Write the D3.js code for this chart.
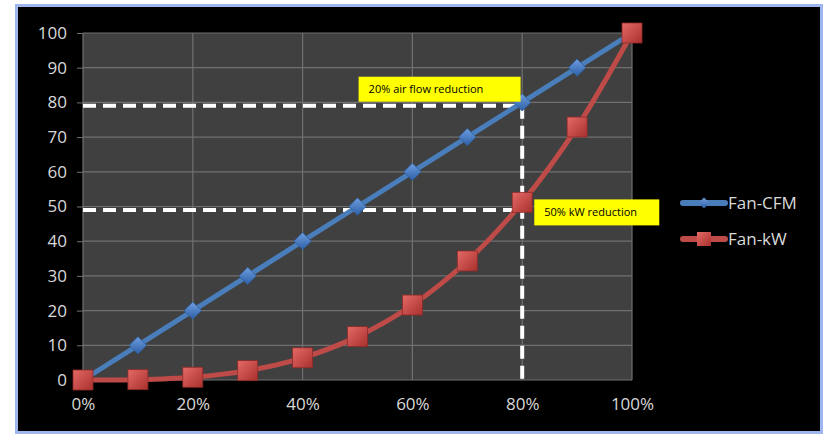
<!DOCTYPE html>
<html>
  <head>
    <meta charset="UTF-8" />
    <title>Fan CFM vs Fan kW</title>
    <script src="https://cdnjs.cloudflare.com/ajax/libs/d3/7.8.5/d3.min.js"></script>
    <style>
      body { margin: 0; padding: 0; background: #fff; overflow: hidden; }
      svg { display: block; }
      .tick text { fill: #d9d9d9; font-family: "Open Sans", sans-serif; font-size: 17px; }
    </style>
  </head>
  <body>
    <svg id="chart" width="825" height="434"></svg>
    <script>
      // data
      const xValues = [0, 0.1, 0.2, 0.3, 0.4, 0.5, 0.6, 0.7, 0.8, 0.9, 1.0];
      const fanCFM = [0, 10, 20, 30, 40, 50, 60, 70, 80, 90, 100];
      const fanKW = [0, 0.1, 0.8, 2.7, 6.4, 12.5, 21.6, 34.3, 51.2, 72.9, 100];
      const xTicks = [0, 0.2, 0.4, 0.6, 0.8, 1.0];
      const yTicks = [0, 10, 20, 30, 40, 50, 60, 70, 80, 90, 100];
      const guideX = 0.8;
      const guideY = [79, 49];
      const notes = [
        { text: "20% air flow reduction", x: 0.502, y: 83.8, w: 162, h: 25 },
        { text: "50% kW reduction", x: 0.822, y: 48.3, w: 125, h: 26 }
      ];

      const svg = d3.select("#chart");
      const plotL = 83, plotR = 632, plotT = 33, plotB = 380;

      // frame
      svg.append("rect").attr("x", 16.5).attr("y", 5.5).attr("width", 805).attr("height", 427)
        .attr("fill", "#000").attr("stroke", "#9fb6ee").attr("stroke-width", 3);

      const x = d3.scaleLinear().domain([0, 1]).range([plotL, plotR]);
      const y = d3.scaleLinear().domain([0, 100]).range([plotB, plotT]);

      svg.append("rect").attr("x", plotL).attr("y", plotT)
        .attr("width", plotR - plotL).attr("height", plotB - plotT).attr("fill", "#404040");

      // gridlines
      svg.append("g").selectAll("line").data(yTicks).join("line")
        .attr("x1", plotL).attr("x2", plotR).attr("y1", d => y(d)).attr("y2", d => y(d))
        .attr("stroke", "#707070").attr("stroke-width", 1.2);
      svg.append("g").selectAll("line").data(xTicks).join("line")
        .attr("y1", plotT).attr("y2", plotB).attr("x1", d => x(d)).attr("x2", d => x(d))
        .attr("stroke", "#707070").attr("stroke-width", 1.2);

      // axes
      const yAxis = svg.append("g").attr("transform", `translate(${plotL},0)`)
        .call(d3.axisLeft(y).tickValues(yTicks).tickSize(6).tickPadding(10));
      yAxis.select(".domain").remove();
      yAxis.selectAll(".tick line").attr("stroke", "#707070");

      const xAxis = svg.append("g").attr("transform", `translate(0,${plotB})`)
        .call(d3.axisBottom(x).tickValues(xTicks).tickFormat(d3.format(".0%")).tickSize(0).tickPadding(18));
      xAxis.select(".domain").remove();

      // dashed guides
      const guides = svg.append("g").attr("stroke", "#fff").attr("stroke-width", 4)
        .attr("stroke-dasharray", "13,7").attr("fill", "none");
      guideY.forEach(v => {
        guides.append("line").attr("x1", x(0)).attr("x2", x(guideX))
          .attr("y1", y(v)).attr("y2", y(v));
      });
      guides.append("line").attr("x1", x(guideX)).attr("x2", x(guideX))
        .attr("y1", y(guideY[0])).attr("y2", plotB + 4);

      // gradients for markers
      const defs = svg.append("defs");
      const gb = defs.append("linearGradient").attr("id", "gBlue").attr("x1", 0).attr("y1", 0).attr("x2", 0).attr("y2", 1);
      gb.append("stop").attr("offset", "0%").attr("stop-color", "#6f9ee0");
      gb.append("stop").attr("offset", "100%").attr("stop-color", "#2d5fa6");
      const gr = defs.append("linearGradient").attr("id", "gRed").attr("x1", 0).attr("y1", 0).attr("x2", 1).attr("y2", 1);
      gr.append("stop").attr("offset", "0%").attr("stop-color", "#e46a66");
      gr.append("stop").attr("offset", "100%").attr("stop-color", "#a8302d");

      const cfmData = xValues.map((v, i) => [v, fanCFM[i]]);
      const kwData = xValues.map((v, i) => [v, fanKW[i]]);

      const line = d3.line().x(d => x(d[0])).y(d => y(d[1]));
      const curve = d3.line().x(d => x(d[0])).y(d => y(d[1])).curve(d3.curveCatmullRom);

      svg.append("path").datum(cfmData).attr("d", line)
        .attr("fill", "none").attr("stroke", "#4a7ebb").attr("stroke-width", 5);
      svg.append("path").datum(kwData).attr("d", curve)
        .attr("fill", "none").attr("stroke", "#be4b48").attr("stroke-width", 5);

      const diamond = d3.symbol().type(d3.symbolDiamond2).size(190);
      svg.append("g").selectAll("path").data(cfmData).join("path")
        .attr("d", diamond)
        .attr("transform", d => `translate(${x(d[0])},${y(d[1])})`)
        .attr("fill", "url(#gBlue)").attr("stroke", "#2f5f9e").attr("stroke-width", 0.8);

      svg.append("g").selectAll("rect").data(kwData).join("rect")
        .attr("x", d => x(d[0]) - 10).attr("y", d => y(d[1]) - 10)
        .attr("width", 20).attr("height", 20)
        .attr("fill", "url(#gRed)").attr("stroke", "#8e2a28").attr("stroke-width", 0.8);

      // annotation boxes
      const noteG = svg.append("g").selectAll("g").data(notes).join("g")
        .attr("transform", d => `translate(${x(d.x)},${y(d.y) - d.h / 2})`);
      noteG.append("rect").attr("width", d => d.w).attr("height", d => d.h).attr("fill", "#ffff00");
      noteG.append("text").attr("x", 10).attr("y", d => d.h / 2 + 4)
        .attr("font-family", "Open Sans, sans-serif").attr("font-size", 11).attr("fill", "#000")
        .text(d => d.text);

      // legend
      const legend = [
        { name: "Fan-CFM", color: "#4a7ebb", kind: "diamond" },
        { name: "Fan-kW", color: "#be4b48", kind: "square" }
      ];
      const lg = svg.append("g").selectAll("g").data(legend).join("g")
        .attr("transform", (d, i) => `translate(683,${203 + i * 36})`);
      lg.append("line").attr("x1", 0).attr("x2", 42).attr("y1", 0).attr("y2", 0)
        .attr("stroke", d => d.color).attr("stroke-width", 6).attr("stroke-linecap", "round");
      lg.each(function (d) {
        const g = d3.select(this);
        if (d.kind === "diamond") {
          g.append("path").attr("d", d3.symbol().type(d3.symbolDiamond2).size(80))
            .attr("transform", "translate(21,0)").attr("fill", "url(#gBlue)");
        } else {
          g.append("rect").attr("x", 14).attr("y", -7).attr("width", 14).attr("height", 14)
            .attr("fill", "url(#gRed)");
        }
      });
      lg.append("text").attr("x", 45).attr("y", 6)
        .attr("font-family", "Open Sans, sans-serif").attr("font-size", 17).attr("fill", "#d9d9d9")
        .text(d => d.name);
    </script>
  </body>
</html>
